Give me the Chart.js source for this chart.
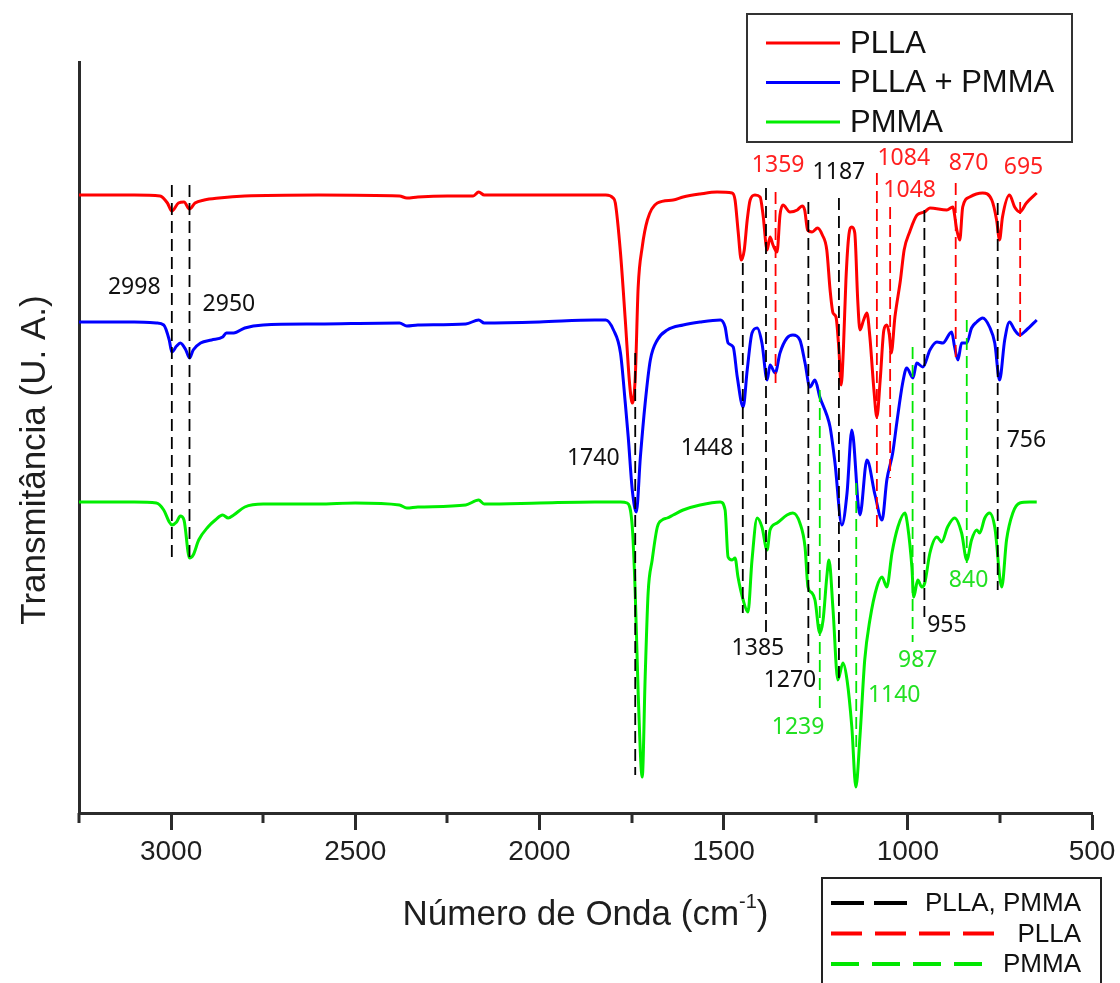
<!DOCTYPE html>
<html lang="pt">
<head>
<meta charset="utf-8">
<style>
  html, body { margin: 0; padding: 0; background: #fff; }
  #wrap { width: 1120px; height: 983px; }
</style>
</head>
<body>
<div id="wrap"><canvas id="ftirChart" width="1120" height="983"></canvas></div>

<script src="https://cdn.jsdelivr.net/npm/chart.js@4.4.1/dist/chart.umd.min.js"></script>
<script>
// FTIR spectra, wavenumber (cm-1) vs transmittance (arbitrary units)
const pllaWn = [3250, 3100, 3030, 3010, 2998, 2980, 2965, 2950, 2935, 2910,
  2870, 2800, 2600, 2380, 2360, 2330, 2250, 2180, 2165, 2150,
  2000, 1900, 1820, 1800, 1794, 1780, 1767, 1755, 1748, 1740,
  1732, 1721, 1707, 1680, 1637, 1610, 1564, 1518, 1477, 1469,
  1461, 1452, 1444, 1436, 1428, 1415, 1401, 1393, 1382, 1374,
  1366, 1355, 1347, 1339, 1320, 1300, 1287, 1280, 1272, 1260,
  1245, 1232, 1220, 1211, 1203, 1195, 1187, 1181, 1175, 1168,
  1160, 1152, 1144, 1136, 1130, 1120, 1111, 1103, 1092, 1084,
  1075, 1065, 1057, 1050, 1045, 1035, 1020, 1010, 995, 975,
  955, 940, 894, 878, 867, 859, 851, 832, 797, 772,
  759, 751, 743, 724, 710, 696, 678, 650];
const pllaT = [61.8, 61.8, 61.7, 61.0, 60.2, 61.0, 61.1, 60.4, 61.0, 61.3,
  61.5, 61.7, 61.8, 61.7, 61.5, 61.6, 61.7, 61.7, 62.1, 61.8,
  61.8, 61.8, 61.8, 61.5, 61.0, 56.0, 49.3, 42.8, 41.0, 43.5,
  52.6, 56.6, 59.3, 61.0, 61.3, 61.6, 61.9, 62.1, 62.0, 61.3,
  58.3, 55.3, 56.3, 59.3, 61.3, 61.8, 61.6, 59.8, 56.3, 57.6,
  56.8, 56.1, 59.8, 60.8, 60.1, 60.3, 60.7, 60.3, 58.3, 58.1,
  58.5, 57.8, 56.3, 52.3, 50.0, 49.6, 46.3, 42.8, 46.3, 53.3,
  57.8, 58.6, 58.0, 51.3, 48.3, 49.3, 50.0, 47.6, 42.3, 39.6,
  43.3, 48.3, 48.8, 47.8, 46.0, 49.6, 53.3, 56.3, 58.1, 59.8,
  60.1, 60.5, 60.3, 60.6, 58.3, 57.3, 60.6, 61.6, 62.0, 61.3,
  59.3, 57.3, 59.6, 61.8, 60.6, 60.1, 61.0, 62.0];

const blendWn = [3250, 3100, 3040, 3020, 3005, 2998, 2985, 2975, 2960, 2950,
  2940, 2920, 2890, 2860, 2850, 2830, 2800, 2750, 2600, 2380,
  2360, 2330, 2200, 2165, 2150, 2000, 1850, 1820, 1799, 1780,
  1767, 1759, 1748, 1737, 1726, 1713, 1699, 1680, 1653, 1610,
  1564, 1509, 1496, 1488, 1474, 1463, 1447, 1436, 1423, 1409,
  1396, 1382, 1374, 1360, 1347, 1328, 1312, 1293, 1279, 1266,
  1252, 1239, 1220, 1211, 1198, 1179, 1165, 1152, 1130, 1111,
  1089, 1070, 1057, 1041, 1030, 1014, 1003, 986, 976, 959,
  940, 921, 905, 881, 873, 864, 854, 840, 827, 813,
  797, 778, 764, 751, 737, 724, 710, 696, 678, 650];
const blendT = [49.1, 49.1, 49.0, 48.8, 47.3, 46.1, 46.7, 47.0, 46.3, 45.5,
  46.3, 47.0, 47.3, 47.6, 48.0, 48.0, 48.5, 48.8, 48.9, 49.0,
  48.7, 48.8, 48.9, 49.3, 49.0, 49.1, 49.3, 49.3, 48.3, 46.0,
  41.0, 37.6, 32.3, 30.1, 35.6, 41.0, 45.3, 47.3, 48.3, 48.8,
  49.1, 49.3, 48.6, 47.0, 46.6, 43.6, 40.6, 44.3, 48.0, 48.5,
  47.0, 43.3, 44.8, 44.0, 46.0, 47.5, 47.8, 47.3, 45.0, 42.6,
  43.3, 41.6, 39.8, 38.6, 35.1, 28.8, 32.0, 38.3, 29.8, 35.3,
  31.8, 29.3, 33.3, 36.0, 39.0, 43.0, 44.5, 43.5, 45.0, 44.6,
  46.3, 47.1, 47.0, 48.1, 46.6, 45.3, 47.0, 47.0, 48.5, 49.1,
  49.5, 48.6, 47.0, 43.3, 47.3, 49.1, 48.3, 47.8, 48.3, 49.3];

const pmmaWn = [3250, 3100, 3040, 3020, 3005, 2998, 2985, 2975, 2965, 2950,
  2940, 2925, 2900, 2880, 2860, 2845, 2830, 2800, 2750, 2600,
  2500, 2380, 2360, 2330, 2200, 2165, 2150, 2000, 1850, 1780,
  1762, 1748, 1740, 1732, 1721, 1713, 1705, 1694, 1680, 1667,
  1653, 1637, 1610, 1564, 1509, 1496, 1488, 1477, 1469, 1461,
  1447, 1434, 1423, 1409, 1396, 1382, 1374, 1355, 1328, 1312,
  1293, 1279, 1271, 1260, 1252, 1239, 1230, 1220, 1214, 1203,
  1190, 1176, 1165, 1152, 1141, 1130, 1117, 1103, 1084, 1070,
  1057, 1043, 1027, 1008, 1000, 989, 984, 973, 962, 954,
  940, 921, 908, 892, 873, 854, 840, 827, 813, 805,
  791, 778, 764, 745, 732, 715, 696, 669, 650];
const pmmaT = [31.1, 31.1, 31.0, 30.3, 29.1, 28.8, 29.1, 29.7, 29.3, 25.5,
  25.8, 27.3, 28.6, 29.3, 29.8, 29.5, 29.8, 30.6, 30.9, 30.9,
  31.0, 30.8, 30.5, 30.6, 30.8, 31.3, 30.9, 31.0, 31.1, 31.1,
  31.0, 28.6, 22.0, 12.0, 3.6, 13.6, 22.0, 25.3, 28.6, 29.3,
  29.5, 29.8, 30.3, 30.8, 31.1, 30.3, 25.6, 25.3, 25.5, 23.6,
  21.3, 20.1, 25.3, 29.5, 28.6, 26.3, 28.3, 29.0, 29.8, 30.0,
  29.0, 26.6, 22.6, 22.0, 21.3, 18.0, 19.3, 23.6, 25.3, 20.3,
  13.3, 15.0, 13.3, 8.6, 2.6, 7.6, 15.3, 19.3, 22.6, 23.6,
  22.6, 26.0, 28.6, 30.0, 28.6, 24.6, 21.6, 23.3, 22.6, 23.0,
  26.0, 27.6, 27.1, 28.6, 29.5, 28.0, 25.3, 27.3, 28.3, 28.0,
  29.5, 30.0, 28.6, 22.6, 27.3, 30.0, 31.0, 31.1, 31.1];

// assigned bands
const commonPeaks = [2998, 2950, 1740, 1448, 1385, 1270, 1187, 955, 756];
const pllaPeaks = [1359, 1084, 1048, 870, 695];
const pmmaPeaks = [1239, 1140, 987, 840];

const xMajorTicks = [3000, 2500, 2000, 1500, 1000, 500];
const xMinorTicks = [3250, 2750, 2250, 1750, 1250, 750];

// where each guide line starts/ends and where its number sits (wn, T units)
const guideLayout = {
  2998: { from: 62.8, to: 25.3, lx: 3100, ly: 52.6 },
  2950: { from: 62.8, to: 25.3, lx: 2843, ly: 50.9 },
  1740: { from: 46.0, to: 3.8, lx: 1854, ly: 35.5 },
  1448: { from: 55.0, to: 20.0, lx: 1545, ly: 36.5 },
  1385: { from: 62.5, to: 17.8, lx: 1407, ly: 16.5 },
  1270: { from: 61.1, to: 15.0, lx: 1320, ly: 13.3 },
  1187: { from: 61.5, to: 13.3, lx: 1187, ly: 64.1 },
  955:  { from: 60.3, to: 19.6, lx: 894, ly: 18.8 },
  756:  { from: 61.0, to: 22.3, lx: 678, ly: 37.3 },
  1359: { from: 62.1, to: 43.0, lx: 1352, ly: 64.8 },
  1084: { from: 64.0, to: 28.3, lx: 1011, ly: 65.5 },
  1048: { from: 60.6, to: 33.5, lx: 995, ly: 62.3 },
  870:  { from: 63.0, to: 45.0, lx: 835, ly: 65.0 },
  695:  { from: 61.1, to: 47.6, lx: 686, ly: 64.6 },
  1239: { from: 42.3, to: 10.0, lx: 1298, ly: 8.6 },
  1140: { from: 33.0, to: 6.6, lx: 1037, ly: 11.8 },
  987:  { from: 46.6, to: 17.1, lx: 973, ly: 15.3 },
  840:  { from: 49.3, to: 25.0, lx: 835, ly: 23.3 }
};

const sansFont = "'Liberation Sans', Arial, sans-serif";
const numFont = "'Noto Sans', 'Open Sans', sans-serif";

const guideGroups = [
  { name: 'PLLA, PMMA', peaks: commonPeaks, color: '#000000', text: '#111111', dash: [33, 10], len: 76 },
  { name: 'PLLA', peaks: pllaPeaks, color: '#ff0000', text: '#ff2020', dash: [31, 13], len: 165 },
  { name: 'PMMA', peaks: pmmaPeaks, color: '#00e600', text: '#22e022', dash: [28, 13], len: 152 }
];

function toPoints(wn, t) {
  return wn.map((w, i) => ({ x: w, y: t[i] }));
}

const spectra = [
  { label: 'PLLA', data: toPoints(pllaWn, pllaT), borderColor: '#ff0000' },
  { label: 'PLLA + PMMA', data: toPoints(blendWn, blendT), borderColor: '#0000ff' },
  { label: 'PMMA', data: toPoints(pmmaWn, pmmaT), borderColor: '#00ee00' }
].map(d => Object.assign(d, {
  borderWidth: 3,
  pointRadius: 0,
  cubicInterpolationMode: 'monotone',
  order: 2
}));

const guides = [];
guideGroups.forEach(g => {
  g.peaks.forEach(p => {
    const lay = guideLayout[p];
    guides.push({
      label: 'guide-' + p,
      data: [{ x: p, y: lay.from }, { x: p, y: lay.to }],
      borderColor: g.color,
      borderWidth: 1.8,
      borderDash: [12, 6],
      pointRadius: 0,
      order: 1
    });
  });
});

const decor = {
  id: 'decor',
  afterDatasetsDraw(chart) {
    const ctx = chart.ctx;
    const xs = chart.scales.x, ys = chart.scales.y;
    ctx.save();
    ctx.font = '23px ' + numFont;
    ctx.textAlign = 'center';
    ctx.textBaseline = 'middle';
    guideGroups.forEach(g => {
      ctx.fillStyle = g.text;
      g.peaks.forEach(p => {
        const lay = guideLayout[p];
        ctx.fillText(String(p), xs.getPixelForValue(lay.lx), ys.getPixelForValue(lay.ly));
      });
    });
    ctx.restore();
  },
  afterDraw(chart) {
    const ctx = chart.ctx;
    const xs = chart.scales.x;
    const area = chart.chartArea;
    ctx.save();

    // minor ticks
    ctx.strokeStyle = '#2b2b2b';
    ctx.lineWidth = 3;
    xMinorTicks.forEach(v => {
      const px = Math.round(xs.getPixelForValue(v));
      ctx.beginPath();
      ctx.moveTo(px, area.bottom);
      ctx.lineTo(px, area.bottom + 10);
      ctx.stroke();
    });

    // axis titles
    ctx.fillStyle = '#1e1e1e';
    ctx.textBaseline = 'alphabetic';
    ctx.textAlign = 'left';
    const big = '35px ' + sansFont, small = '20px ' + sansFont;
    const main = 'Número de Onda (cm', sup = '-1', close = ')';
    ctx.font = big;
    const wMain = ctx.measureText(main).width, wClose = ctx.measureText(close).width;
    ctx.font = small;
    const wSup = ctx.measureText(sup).width;
    let tx = (area.left + area.right) / 2 - (wMain + wSup + wClose) / 2;
    const base = 925;
    ctx.font = big;
    ctx.fillText(main, tx, base);
    tx += wMain;
    ctx.font = small;
    ctx.fillText(sup, tx, base - 17);
    tx += wSup;
    ctx.font = big;
    ctx.fillText(close, tx, base);

    ctx.save();
    ctx.translate(35, 460);
    ctx.rotate(-Math.PI / 2);
    ctx.textAlign = 'center';
    ctx.textBaseline = 'middle';
    ctx.font = big;
    ctx.fillText('Transmitância (U. A.)', 0, 0);
    ctx.restore();

    // series legend (top right)
    ctx.fillStyle = '#ffffff';
    ctx.fillRect(747, 14, 325, 128);
    ctx.strokeStyle = '#333333';
    ctx.lineWidth = 2;
    ctx.strokeRect(747, 14, 325, 128);
    ctx.font = '31px ' + sansFont;
    ctx.textBaseline = 'middle';
    ctx.textAlign = 'left';
    spectra.forEach((d, i) => {
      const y = 43 + i * 39.5;
      ctx.strokeStyle = d.borderColor;
      ctx.lineWidth = 3;
      ctx.beginPath();
      ctx.moveTo(766, y);
      ctx.lineTo(840, y);
      ctx.stroke();
      ctx.fillStyle = '#111111';
      ctx.fillText(d.label, 850, y + 1);
    });

    // guide-line legend (bottom right)
    ctx.fillStyle = '#ffffff';
    ctx.fillRect(822, 878, 279, 120);
    ctx.strokeStyle = '#222222';
    ctx.lineWidth = 2;
    ctx.strokeRect(822, 878, 279, 120);
    ctx.font = '26px ' + sansFont;
    ctx.textAlign = 'right';
    guideGroups.forEach((g, i) => {
      const y = 903 + i * 30.5;
      ctx.strokeStyle = g.color;
      ctx.lineWidth = 4;
      ctx.setLineDash(g.dash);
      ctx.beginPath();
      ctx.moveTo(831, y);
      ctx.lineTo(831 + g.len, y);
      ctx.stroke();
      ctx.setLineDash([]);
      ctx.fillStyle = '#111111';
      ctx.fillText(g.name, 1081, y + 1);
    });

    ctx.restore();
  }
};

new Chart(document.getElementById('ftirChart'), {
  type: 'line',
  data: { datasets: spectra.concat(guides) },
  options: {
    responsive: false,
    animation: false,
    devicePixelRatio: 1,
    layout: { padding: { left: 0, top: 62, right: 28, bottom: 0 } },
    plugins: {
      legend: { display: false },
      tooltip: { enabled: false }
    },
    scales: {
      x: {
        type: 'linear',
        reverse: true,
        min: 500,
        max: 3250,
        afterFit(scale) { scale.height = 170; },
        afterBuildTicks(scale) {
          scale.ticks = xMajorTicks.concat(xMinorTicks)
            .sort((a, b) => a - b)
            .map(v => ({ value: v }));
        },
        ticks: {
          autoSkip: false,
          maxRotation: 0,
          minRotation: 0,
          padding: 5,
          color: '#1e1e1e',
          font: { family: sansFont, size: 28 },
          callback: v => (xMajorTicks.includes(v) ? String(v) : '')
        },
        grid: {
          display: true,
          drawOnChartArea: false,
          drawTicks: true,
          tickLength: 17,
          tickWidth: 3,
          tickColor: c => (c.tick && xMajorTicks.includes(c.tick.value) ? '#2b2b2b' : 'rgba(0,0,0,0)')
        },
        border: { display: true, color: '#2b2b2b', width: 3 }
      },
      y: {
        min: 0,
        max: 75.1,
        afterFit(scale) { scale.width = 79; },
        ticks: { display: false },
        grid: { display: false, drawTicks: false },
        border: { display: true, color: '#2b2b2b', width: 3 }
      }
    }
  },
  plugins: [decor]
});
</script>
</body>
</html>
